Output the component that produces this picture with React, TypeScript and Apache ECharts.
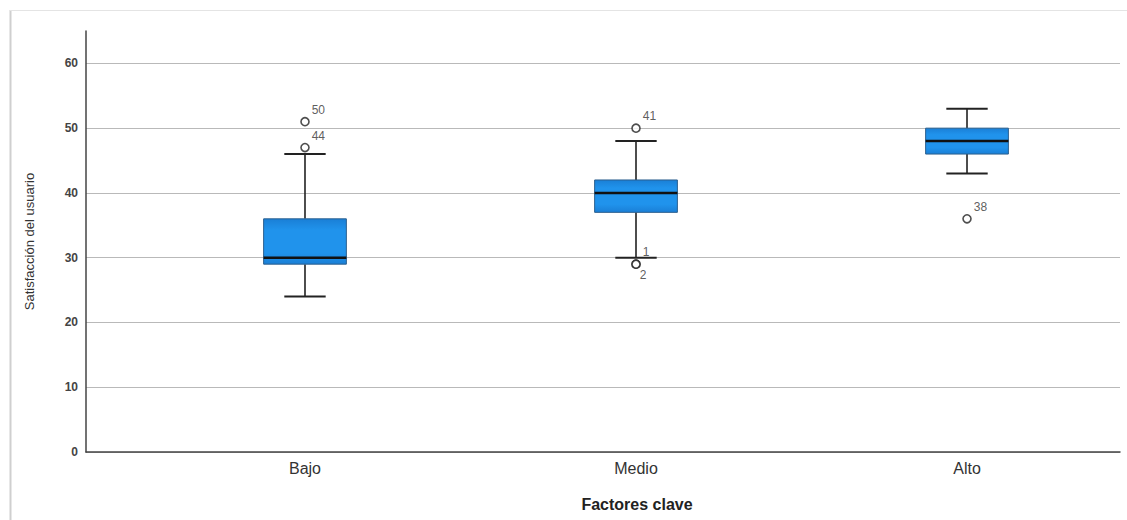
import React, { useEffect, useRef } from "react";
import * as echarts from "echarts";

// Groups on the horizontal axis
const categories = ["Bajo", "Medio", "Alto"];

// Box statistics per group: lower whisker, Q1, median, Q3, upper whisker
const whiskerLow = [24, 30, 43];
const quartile1 = [29, 37, 46];
const medians = [30, 40, 48];
const quartile3 = [36, 42, 50];
const whiskerHigh = [46, 48, 53];

// Outlying cases: group index, value and case number
const outlierGroup = [0, 0, 1, 1, 1, 2];
const outlierValue = [51, 47, 50, 29, 29, 36];
const outlierCase = ["50", "44", "41", "1", "2", "38"];
const outlierLabelBelow = [false, false, false, false, true, false];

// Value axis ticks
const yMin = 0;
const yMax = 65;
const yInterval = 10;

// Horizontal extent of the group axis (group positions are 0, 1, 2)
const xMin = -0.6616;
const xMax = 2.4622;

const FONT = "'Liberation Sans', Arial, sans-serif";

export default function App() {
  const ref = useRef<HTMLDivElement>(null);

  useEffect(() => {
    if (!ref.current) return;
    const chart = echarts.init(ref.current, null, { renderer: "svg" });

    const boxData = categories.map((_, i) => [
      i,
      whiskerLow[i],
      quartile1[i],
      medians[i],
      quartile3[i],
      whiskerHigh[i],
    ]);

    const outlierData = outlierValue.map((v, i) => ({
      value: [outlierGroup[i], v, outlierCase[i]],
      label: {
        show: true,
        color: "#333333",
        textBorderWidth: 0,
        position: outlierLabelBelow[i] ? [8.5, 9.5] : [11.5, -13],
      },
    }));

    const boxFill = new echarts.graphic.LinearGradient(0, 0, 0, 1, [
      { offset: 0, color: "#1a7fd6" },
      { offset: 0.25, color: "#2093ec" },
      { offset: 0.75, color: "#2093ec" },
      { offset: 1, color: "#1a7fd6" },
    ]);

    const option: any = {
      animation: false,
      backgroundColor: "#ffffff",
      textStyle: { fontFamily: FONT },
      graphic: [
        {
          type: "line",
          shape: { x1: 10.5, y1: 10, x2: 10.5, y2: 520 },
          style: { stroke: "#cfcfcf", lineWidth: 2 },
          silent: true,
        },
        {
          type: "line",
          shape: { x1: 10, y1: 10.5, x2: 1127, y2: 10.5 },
          style: { stroke: "#e4e4e4", lineWidth: 1 },
          silent: true,
        },
      ],
      grid: { left: 86, right: 7, top: 31, bottom: 68 },
      xAxis: {
        type: "value",
        min: xMin,
        max: xMax,
        axisLine: { show: true, onZero: false, lineStyle: { color: "#444", width: 1.5 } },
        axisTick: { show: false },
        axisLabel: {
          customValues: categories.map((_, i) => i),
          formatter: (v: number) => categories[Math.round(v)] ?? "",
          color: "#333",
          fontSize: 16,
          margin: 8,
          fontFamily: FONT,
        },
        name: "Factores clave",
        nameLocation: "middle",
        nameGap: 44,
        nameTextStyle: {
          color: "#222",
          fontSize: 16,
          fontWeight: "bold",
          fontFamily: FONT,
          padding: [0, 0, 0, 68],
        },
        splitLine: { show: false },
      },
      yAxis: {
        type: "value",
        min: yMin,
        max: yMax,
        interval: yInterval,
        axisLine: { show: true, onZero: false, lineStyle: { color: "#444", width: 1.5 } },
        axisTick: { show: false },
        axisLabel: {
          color: "#444",
          fontSize: 12,
          fontWeight: "bold",
          margin: 8,
          showMaxLabel: false,
          fontFamily: FONT,
        },
        splitLine: {
          show: true,
          showMaxLine: false,
          lineStyle: { color: "#b9b9b9", width: 1 },
        },
        name: "Satisfacción del usuario",
        nameLocation: "middle",
        nameGap: 50,
        nameRotate: 90,
        nameTextStyle: { color: "#333", fontSize: 13, fontFamily: FONT },
      },
      series: [
        {
          type: "custom",
          data: boxData,
          renderItem: (params: any, api: any) => {
            const c = api.value(0);
            const pLow = api.coord([c, api.value(1)]);
            const pQ1 = api.coord([c, api.value(2)]);
            const pMed = api.coord([c, api.value(3)]);
            const pQ3 = api.coord([c, api.value(4)]);
            const pHigh = api.coord([c, api.value(5)]);
            const band = api.size([1, 0])[0];
            const boxW = band * 0.25;
            const capW = boxW / 2;
            const x = pMed[0];
            const lineStyle = { stroke: "#222", lineWidth: 1.6 };
            return {
              type: "group",
              children: [
                {
                  type: "line",
                  shape: { x1: x, y1: pLow[1], x2: x, y2: pQ1[1] },
                  style: lineStyle,
                },
                {
                  type: "line",
                  shape: { x1: x, y1: pQ3[1], x2: x, y2: pHigh[1] },
                  style: lineStyle,
                },
                {
                  type: "line",
                  shape: { x1: x - capW / 2, y1: pLow[1], x2: x + capW / 2, y2: pLow[1] },
                  style: { stroke: "#222", lineWidth: 2 },
                },
                {
                  type: "line",
                  shape: { x1: x - capW / 2, y1: pHigh[1], x2: x + capW / 2, y2: pHigh[1] },
                  style: { stroke: "#222", lineWidth: 2 },
                },
                {
                  type: "rect",
                  shape: {
                    x: x - boxW / 2,
                    y: pQ3[1],
                    width: boxW,
                    height: pQ1[1] - pQ3[1],
                  },
                  style: { fill: boxFill, stroke: "#2b5f8e", lineWidth: 1 },
                },
                {
                  type: "line",
                  shape: { x1: x - boxW / 2, y1: pMed[1], x2: x + boxW / 2, y2: pMed[1] },
                  style: { stroke: "#111", lineWidth: 2.5 },
                },
              ],
            };
          },
        },
        {
          type: "scatter",
          symbol: "circle",
          symbolSize: 8,
          itemStyle: {
            color: "#ffffff",
            borderColor: "#222",
            borderWidth: 1.6,
          },
          label: {
            show: true,
            formatter: (p: any) => p.value[2],
            color: "#333333",
            textBorderWidth: 0,
            fontSize: 12,
            fontFamily: FONT,
          },
          data: outlierData,
          z: 5,
        },
      ],
    };

    chart.setOption(option);
    return () => chart.dispose();
  }, []);

  return (
    <div
      ref={ref}
      style={{ position: "absolute", left: 0, top: 0, width: 1127, height: 520 }}
    />
  );
}
